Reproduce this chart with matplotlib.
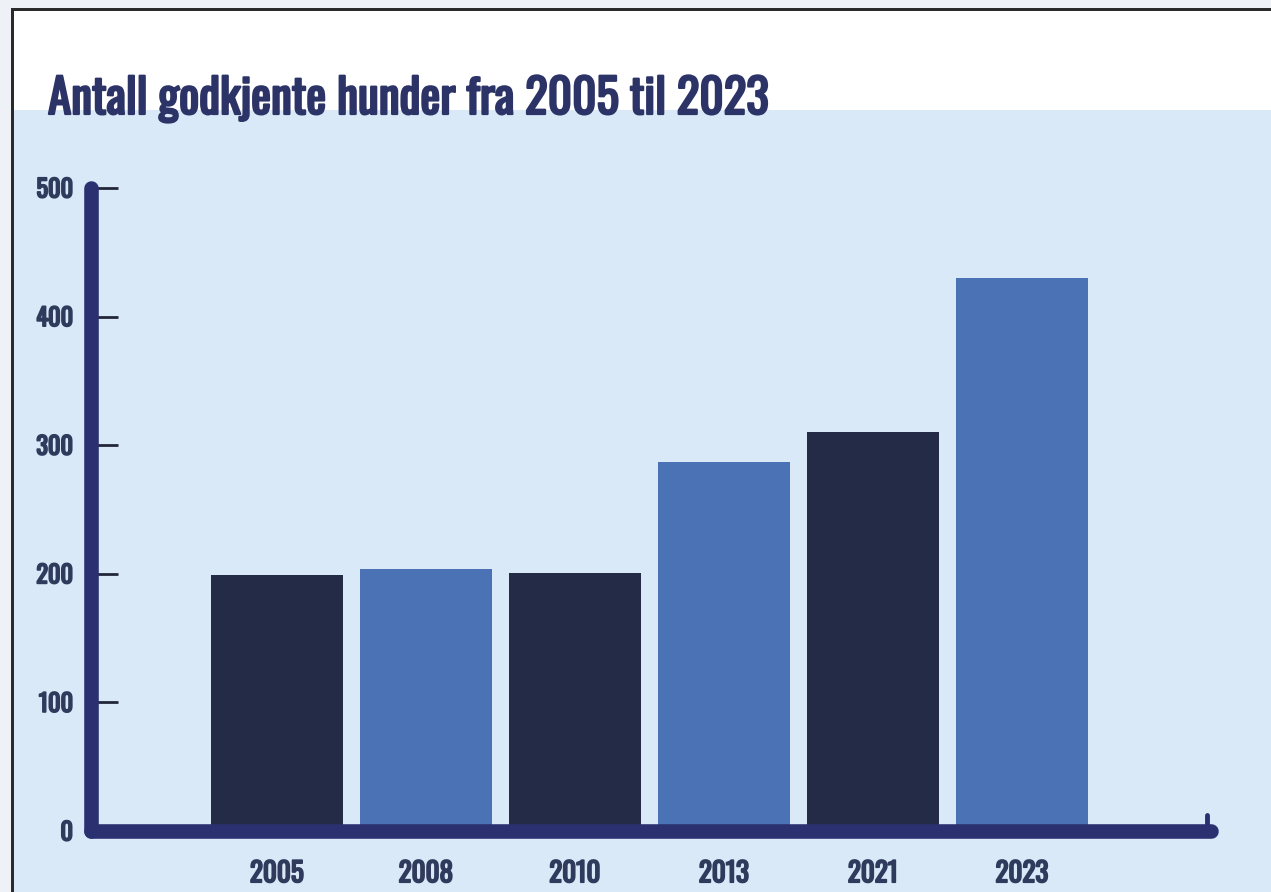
import matplotlib
matplotlib.use("Agg")
import matplotlib.pyplot as plt
import matplotlib.patheffects as pe
from matplotlib.patches import Rectangle

years = ["2005", "2008", "2010", "2013", "2021", "2023"]
dogs = [199, 204, 201, 287, 310, 430]
yticks = [0, 100, 200, 300, 400, 500]

navy = "#232b47"
blue = "#4a72b4"
axis_col = "#2b3170"
text_col = "#2f3a5c"
title_col = "#2c3366"
panel = "#d9e9f7"

plt.rcParams["font.family"] = ["Oswald", "DejaVu Sans"]

W, H = 1271, 892
fig = plt.figure(figsize=(W / 100, H / 100), dpi=100)
fig.patch.set_facecolor("#eef2f7")

# white card, blue panel, dark border top/left
fig.patches.append(Rectangle((12 / W, 0), 1, 1 - 10 / H, transform=fig.transFigure,
                             facecolor="white", edgecolor="none", zorder=-5))
fig.patches.append(Rectangle((13 / W, 0), 1, 1 - 110 / H, transform=fig.transFigure,
                             facecolor=panel, edgecolor="none", zorder=-4))
fig.patches.append(Rectangle((11 / W, 1 - 11 / H), 1, 3 / H, transform=fig.transFigure,
                             facecolor="#2a2a2a", edgecolor="none", zorder=-3))
fig.patches.append(Rectangle((11 / W, 0), 2.5 / W, 1 - 8 / H, transform=fig.transFigure,
                             facecolor="#2a2a2a", edgecolor="none", zorder=-3))

fig.text(48 / W, 1 - 114 / H, "Antall godkjente hunder fra 2005 til 2023",
         fontsize=34, color=title_col, va="baseline", ha="left",
         path_effects=[pe.withStroke(linewidth=1.6, foreground=title_col)])

ax = fig.add_axes([91 / W, 1 - 831 / H, 1120 / W, (831 - 188) / H])
ax.set_facecolor("none")

x = list(range(len(years)))
cols = [navy, blue, navy, blue, navy, blue]
ax.bar(x, dogs, width=0.89, color=cols, zorder=2)

ax.set_xlim(-1.248, 6.268)
ax.set_ylim(0, 500)

for s in ["top", "right"]:
    ax.spines[s].set_visible(False)
for s in ["left", "bottom"]:
    ax.spines[s].set_linewidth(10.5)
    ax.spines[s].set_color(axis_col)
    ax.spines[s].set_capstyle("round")
    ax.spines[s].set_zorder(3)

ax.set_yticks(yticks)
ax.set_yticklabels([str(v) for v in yticks])
ax.tick_params(axis="y", direction="in", length=19.5, width=2, color="#23263a",
               pad=13, labelsize=17.5, labelcolor=text_col)
ax.set_xticks(x)
ax.set_xticklabels(years)
ax.tick_params(axis="x", length=0, pad=21, labelsize=19.5, labelcolor=text_col)
for lab in ax.get_xticklabels() + ax.get_yticklabels():
    lab.set_path_effects([pe.withStroke(linewidth=1.3, foreground=text_col)])

# little hook at the end of the x axis
ax.plot([0.9965, 0.9965], [0, 0.025], transform=ax.transAxes, color=axis_col,
        lw=3.5, solid_capstyle="round", clip_on=False, zorder=3)

fig.savefig("out.png", dpi=100, facecolor=fig.get_facecolor())
